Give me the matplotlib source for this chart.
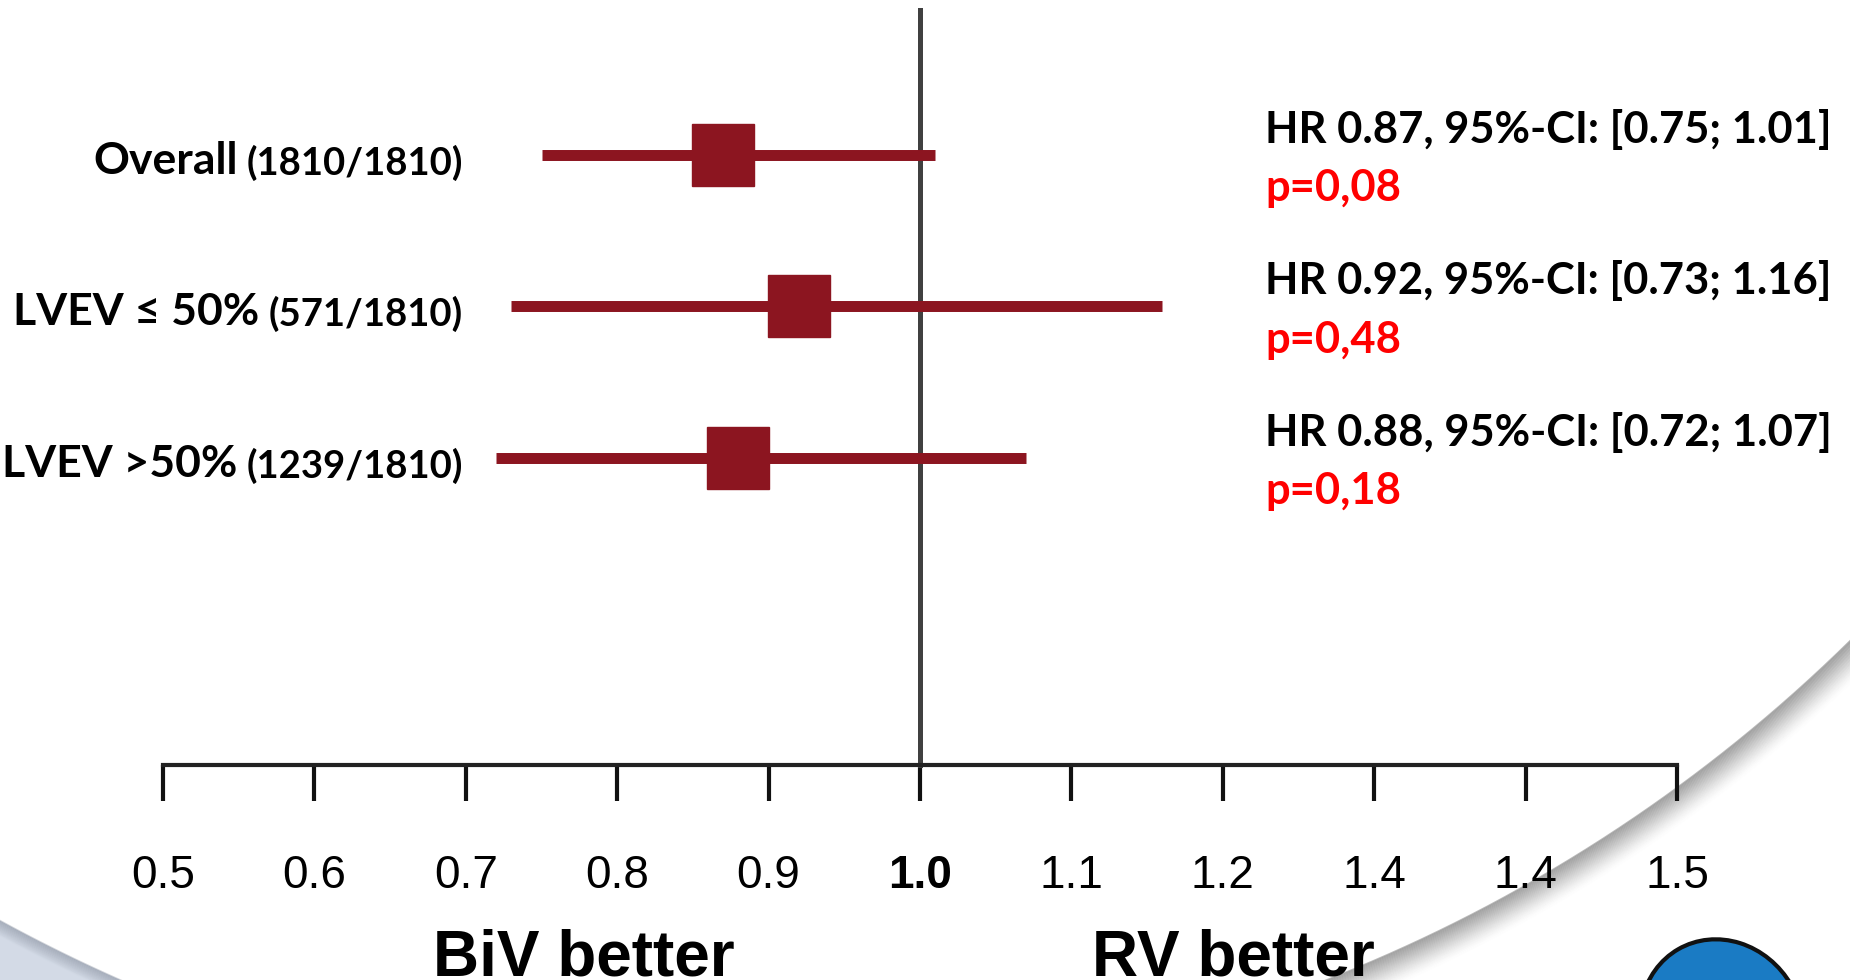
import matplotlib
matplotlib.use("Agg")
import matplotlib.pyplot as plt
from matplotlib.patches import Ellipse, Polygon
import numpy as np

# data
groups = ["Overall", "LVEV \u2264 50%", "LVEV >50%"]
counts = ["(1810/1810)", "(571/1810)", "(1239/1810)"]
hr = [0.87, 0.92, 0.88]
ci_lo = [0.75, 0.73, 0.72]
ci_hi = [1.01, 1.16, 1.07]
p_text = ["p=0,08", "p=0,48", "p=0,18"]
ticks = [0.5, 0.6, 0.7, 0.8, 0.9, 1.0, 1.1, 1.2, 1.3, 1.4, 1.5]
tick_labels = ["0.5", "0.6", "0.7", "0.8", "0.9", "1.0", "1.1", "1.2", "1.4", "1.4", "1.5"]

dark_red = "#8c1520"
lab_font = ["Lato", "DejaVu Sans"]
ax_font = ["Liberation Sans", "DejaVu Sans"]

fig = plt.figure(figsize=(18.5, 9.8), dpi=100)

# background decoration (slide frame arc), pixel coords
bg = fig.add_axes([0, 0, 1, 1], zorder=0)
bg.set_xlim(0, 1850)
bg.set_ylim(980, 0)
bg.axis("off")
cx, cy, R = 760, -468, 1555
xs = np.linspace(0, 1850, 900)
# left corner region
yl = cy + np.sqrt(np.clip((R + 28)**2 - (xs - cx)**2, 0, None))
left = xs < 220
poly = np.column_stack([np.r_[xs[left], 0], np.r_[yl[left], 980]])
bg.add_patch(Polygon(poly, closed=True, fc="#d3dae6", ec="none"))
for k in range(14):
    yk = cy + np.sqrt(np.clip((R + 28 + k)**2 - (xs - cx)**2, 0, None))
    bg.plot(xs[left], yk[left], color="#7d8594", alpha=0.35 * (1 - k / 14), lw=1.2)
# right shadow
m = xs > 950
for k in range(32):
    yk = cy + np.sqrt(np.clip((R + k)**2 - (xs - cx)**2, 0, None))
    bg.plot(xs[m], yk[m], color="#8a8a8a", alpha=0.6 * (1 - k / 32) ** 1.6, lw=1.3)
bg.add_patch(Ellipse((1722, 1025), 160, 175, angle=-30, fc="#1a7bc4", ec="#111111", lw=3))

# main forest plot
ax = fig.add_axes([0, 0, 1, 1], zorder=1)
ax.patch.set_alpha(0)
ax.set_xlim(0.5 - 163 / 1514, 1.5 + 173 / 1514)
ax.set_ylim(5.446, -1.023)
rows = np.arange(len(groups))

ax.plot([1.0, 1.0], [-0.957, 4.03], color="#404040", lw=3.6, zorder=2)
ax.hlines(rows, ci_lo, ci_hi, color=dark_red, lw=7.9, zorder=3)
ax.plot(hr, rows, "s", color=dark_red, markersize=45, zorder=4)

for spine in ["top", "left", "right"]:
    ax.spines[spine].set_visible(False)
ax.spines["bottom"].set_position(("data", 4.03))
ax.spines["bottom"].set_bounds(0.5, 1.5)
ax.spines["bottom"].set_linewidth(3)
ax.spines["bottom"].set_color("#222222")
ax.set_yticks([])
ax.set_xticks(ticks)
ax.set_xticklabels(tick_labels, family=ax_font, fontsize=33)
ax.get_xticklabels()[5].set_fontweight("bold")
ax.tick_params(axis="x", direction="out", length=26, width=3, pad=38, color="#111111")

for i in rows:
    t = ax.text(0.698, i + 0.13, counts[i], ha="right", va="baseline",
                family=lab_font, fontweight="bold", fontsize=27.5)
    ax.annotate(groups[i], xy=(0, 0), xycoords=t, xytext=(-9, 0),
                textcoords="offset pixels", ha="right", va="bottom",
                family=lab_font, fontweight="bold", fontsize=32)
    ax.text(1.228, i - 0.17,
            "HR %.2f, 95%%-CI: [%.2f; %.2f]" % (hr[i], ci_lo[i], ci_hi[i]),
            ha="left", va="center", family=lab_font, fontweight="bold", fontsize=31.3)
    ax.text(1.228, i + 0.22, p_text[i], ha="left", va="center", color="#ff0000",
            family=lab_font, fontweight="bold", fontsize=31.3)

ax.text(0.778, 5.413, "BiV better", ha="center", va="baseline",
        family=ax_font, fontweight="bold", fontsize=46)
ax.text(1.207, 5.413, "RV better", ha="center", va="baseline",
        family=ax_font, fontweight="bold", fontsize=46)

fig.savefig("out.png", dpi=100, facecolor="white")
